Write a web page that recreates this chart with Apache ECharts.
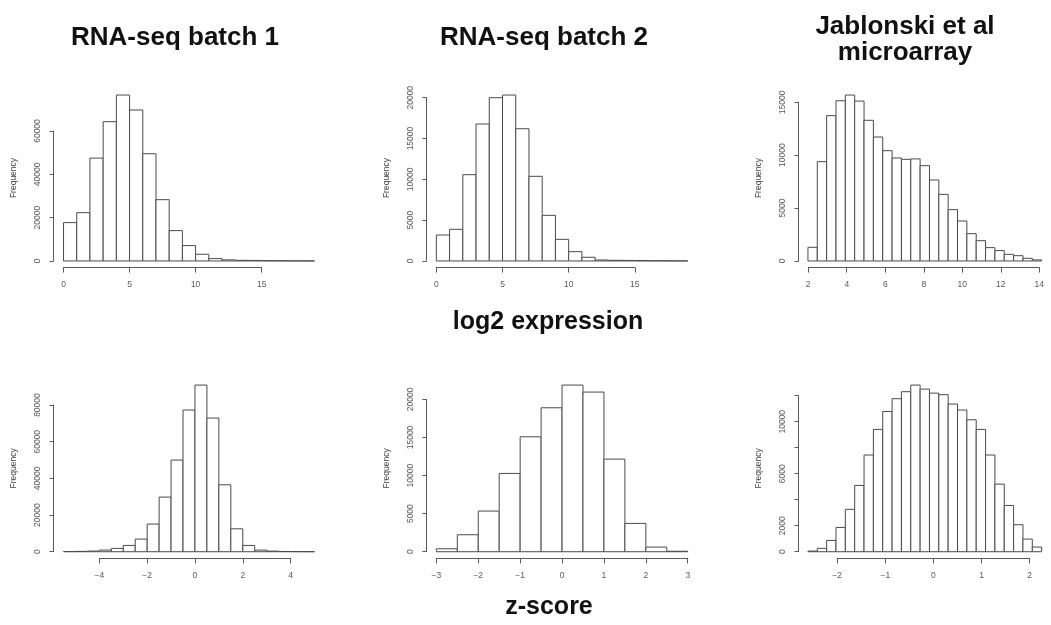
<!DOCTYPE html>
<html>
<head>
<meta charset="utf-8">
<script src="https://cdn.jsdelivr.net/npm/echarts@6/dist/echarts.min.js"></script>
<style>
  html, body { margin: 0; padding: 0; background: #fff; }
  #chart { width: 1051px; height: 625px; }
</style>
</head>
<body>
<div id="chart"></div>
<script>
// ---- histogram data: first bin start, bin width, counts per bin ----
// log2 expression
const batch1Start = 0, batch1Width = 1;
const batch1Counts = [17700, 22300, 47500, 64300, 76600, 69700, 49500, 28300, 14000, 7100,
                      3100, 1100, 500, 300, 250, 150, 100, 60, 30];
const batch2Start = 0, batch2Width = 1;
const batch2Counts = [3180, 3880, 10570, 16780, 20000, 20330, 16200, 10370, 5590, 2650,
                      1140, 450, 120, 80, 70, 50, 30, 20, 10];
const arrayStart = 2, arrayWidth = 0.5;
const arrayCounts = [1290, 9390, 13740, 15150, 15690, 15120, 13300, 11720, 10430, 9740,
                     9610, 9650, 9010, 7660, 6300, 4850, 3780, 2580, 1920, 1260,
                     980, 630, 500, 250, 100];
// z-score
const zBatch1Start = -5.5, zBatch1Width = 0.5;
const zBatch1Counts = [100, 200, 350, 900, 1800, 3450, 6900, 15100, 29800, 50000,
                       77300, 90900, 72900, 36500, 12500, 3450, 900, 350, 150, 80, 40];
const zBatch2Start = -3, zBatch2Width = 0.5;
const zBatch2Counts = [390, 2230, 5340, 10280, 15090, 18900, 21880, 20960, 12160, 3720, 610, 60];
const zArrayStart = -2.6, zArrayWidth = 0.2;
const zArrayCounts = [50, 260, 870, 1870, 3260, 5100, 7440, 9410, 10790, 11770,
                      12310, 12820, 12510, 12200, 12080, 11360, 10900, 10150, 9410, 7440,
                      5200, 3560, 2080, 970, 360];

// ---- axis ticks: [first, last, step] and the labels printed on y ----
const batch1XTicks = [0, 15, 5],  batch1YTicks = [0, 60000, 20000], batch1YLabels = [0, 20000, 40000, 60000];
const batch2XTicks = [0, 15, 5],  batch2YTicks = [0, 20000, 5000],  batch2YLabels = [0, 5000, 10000, 15000, 20000];
const arrayXTicks  = [2, 14, 2],  arrayYTicks  = [0, 15000, 5000],  arrayYLabels  = [0, 5000, 10000, 15000];
const zBatch1XTicks = [-4, 4, 2], zBatch1YTicks = [0, 80000, 20000], zBatch1YLabels = [0, 20000, 40000, 60000, 80000];
const zBatch2XTicks = [-3, 3, 1], zBatch2YTicks = [0, 20000, 5000],  zBatch2YLabels = [0, 5000, 10000, 15000, 20000];
const zArrayXTicks  = [-2, 2, 1], zArrayYTicks  = [0, 12000, 2000],  zArrayYLabels  = [0, 2000, 6000, 10000];

// ---- text ----
const columnTitles = ['RNA-seq batch 1', 'RNA-seq batch 2', ['Jablonski et al', 'microarray']];
const rowTitles = ['log2 expression', 'z-score'];
const yName = 'Frequency';

// ---- layout of the plot regions ----
const ROWS = [{ top: 88.4, height: 179.2 }, { top: 378.4, height: 180 }];
const COLS = [{ left: 53.5, width: 271 }, { left: 426.3, width: 271.5 }, { left: 798.6, width: 260 }];

const panels = [
  { row: 0, col: 0, start: batch1Start,  width: batch1Width,  counts: batch1Counts,  xt: batch1XTicks,  yt: batch1YTicks,  yl: batch1YLabels },
  { row: 0, col: 1, start: batch2Start,  width: batch2Width,  counts: batch2Counts,  xt: batch2XTicks,  yt: batch2YTicks,  yl: batch2YLabels },
  { row: 0, col: 2, start: arrayStart,   width: arrayWidth,   counts: arrayCounts,   xt: arrayXTicks,   yt: arrayYTicks,   yl: arrayYLabels },
  { row: 1, col: 0, start: zBatch1Start, width: zBatch1Width, counts: zBatch1Counts, xt: zBatch1XTicks, yt: zBatch1YTicks, yl: zBatch1YLabels },
  { row: 1, col: 1, start: zBatch2Start, width: zBatch2Width, counts: zBatch2Counts, xt: zBatch2XTicks, yt: zBatch2YTicks, yl: zBatch2YLabels },
  { row: 1, col: 2, start: zArrayStart,  width: zArrayWidth,  counts: zArrayCounts,  xt: zArrayXTicks,  yt: zArrayYTicks,  yl: zArrayYLabels }
];

const FONT = '"Liberation Sans", Arial, Helvetica, sans-serif';
const AXIS_COLOR = '#5a5a5a';
const LABEL_STYLE = { color: '#5a5a5a', fontSize: 8.5, fontFamily: FONT };
const minus = v => String(v).replace('-', '\u2212');

const grid = [], xAxis = [], yAxis = [], series = [];

panels.forEach(p => {
  const R = ROWS[p.row], C = COLS[p.col];
  const n = p.counts.length;
  const xLo = p.start, xHi = p.start + n * p.width;
  const xMin = xLo - 0.04 * (xHi - xLo), xMax = xHi + 0.04 * (xHi - xLo);
  const top = Math.max(...p.counts);
  const yMin = -0.04 * top, yMax = 1.04 * top;

  // data region
  const g0 = grid.length;
  grid.push({ left: C.left, top: R.top, width: C.width, height: R.height });
  xAxis.push({ gridIndex: g0, type: 'value', min: xMin, max: xMax, show: false });
  yAxis.push({
    gridIndex: g0, type: 'value', min: yMin, max: yMax,
    axisLine: { show: false }, axisTick: { show: false }, axisLabel: { show: false }, splitLine: { show: false },
    name: yName, nameLocation: 'middle', nameGap: 35, nameRotate: 90,
    nameTextStyle: { color: '#444', fontSize: 8.5, fontFamily: FONT }
  });
  series.push({
    type: 'custom', xAxisIndex: g0, yAxisIndex: g0, silent: true,
    data: p.counts.map((c, i) => [p.start + i * p.width, p.start + (i + 1) * p.width, c]),
    renderItem: (params, api) => {
      const a = api.coord([api.value(0), api.value(2)]);
      const b = api.coord([api.value(1), 0]);
      return {
        type: 'rect',
        shape: { x: a[0], y: a[1], width: b[0] - a[0], height: b[1] - a[1] },
        style: { fill: '#fff', stroke: '#4a4a4a', lineWidth: 1 }
      };
    }
  });

  // x axis spanning only its tick range
  const g1 = grid.length;
  const sx = C.width / (xMax - xMin);
  grid.push({ left: C.left + (p.xt[0] - xMin) * sx, top: R.top, width: (p.xt[1] - p.xt[0]) * sx, height: R.height });
  xAxis.push({
    gridIndex: g1, type: 'value', min: p.xt[0], max: p.xt[1], interval: p.xt[2], position: 'bottom',
    axisLine: { show: true, lineStyle: { color: AXIS_COLOR, width: 1 } },
    axisTick: { show: true, length: 5, lineStyle: { color: AXIS_COLOR } },
    axisLabel: Object.assign({ margin: 13, formatter: minus, showMinLabel: true, showMaxLabel: true }, LABEL_STYLE),
    splitLine: { show: false }
  });
  yAxis.push({ gridIndex: g1, type: 'value', min: 0, max: 1, show: false });

  // y axis spanning only its tick range
  const g2 = grid.length;
  const sy = R.height / (yMax - yMin);
  grid.push({ left: C.left, top: R.top + (yMax - p.yt[1]) * sy, width: C.width, height: (p.yt[1] - p.yt[0]) * sy });
  xAxis.push({ gridIndex: g2, type: 'value', min: 0, max: 1, show: false });
  const shown = p.yl;
  yAxis.push({
    gridIndex: g2, type: 'value', min: p.yt[0], max: p.yt[1], interval: p.yt[2], position: 'left',
    axisLine: { show: true, lineStyle: { color: AXIS_COLOR, width: 1 } },
    axisTick: { show: true, length: 4, lineStyle: { color: AXIS_COLOR } },
    axisLabel: Object.assign({
      rotate: 90, margin: 11, showMinLabel: true, showMaxLabel: true, hideOverlap: false,
      formatter: v => (shown.indexOf(v) >= 0 ? String(v) : '')
    }, LABEL_STYLE),
    splitLine: { show: false }
  });
});

// headings
const headFont = 'bold 26px ' + FONT;
const graphic = [
  { type: 'text', x: 175, y: 38, style: { text: columnTitles[0], font: headFont, fill: '#111', align: 'center', verticalAlign: 'middle' } },
  { type: 'text', x: 544, y: 38, style: { text: columnTitles[1], font: headFont, fill: '#111', align: 'center', verticalAlign: 'middle' } },
  { type: 'text', x: 905, y: 27, style: { text: columnTitles[2][0], font: headFont, fill: '#111', align: 'center', verticalAlign: 'middle' } },
  { type: 'text', x: 905, y: 53, style: { text: columnTitles[2][1], font: headFont, fill: '#111', align: 'center', verticalAlign: 'middle' } },
  { type: 'text', x: 548, y: 322, style: { text: rowTitles[0], font: 'bold 25px ' + FONT, fill: '#111', align: 'center', verticalAlign: 'middle' } },
  { type: 'text', x: 549, y: 607, style: { text: rowTitles[1], font: 'bold 25px ' + FONT, fill: '#111', align: 'center', verticalAlign: 'middle' } }
];

const chart = echarts.init(document.getElementById('chart'), null, { renderer: 'canvas' });
chart.setOption({
  animation: false,
  backgroundColor: '#fff',
  grid, xAxis, yAxis, series, graphic
});
</script>
</body>
</html>
